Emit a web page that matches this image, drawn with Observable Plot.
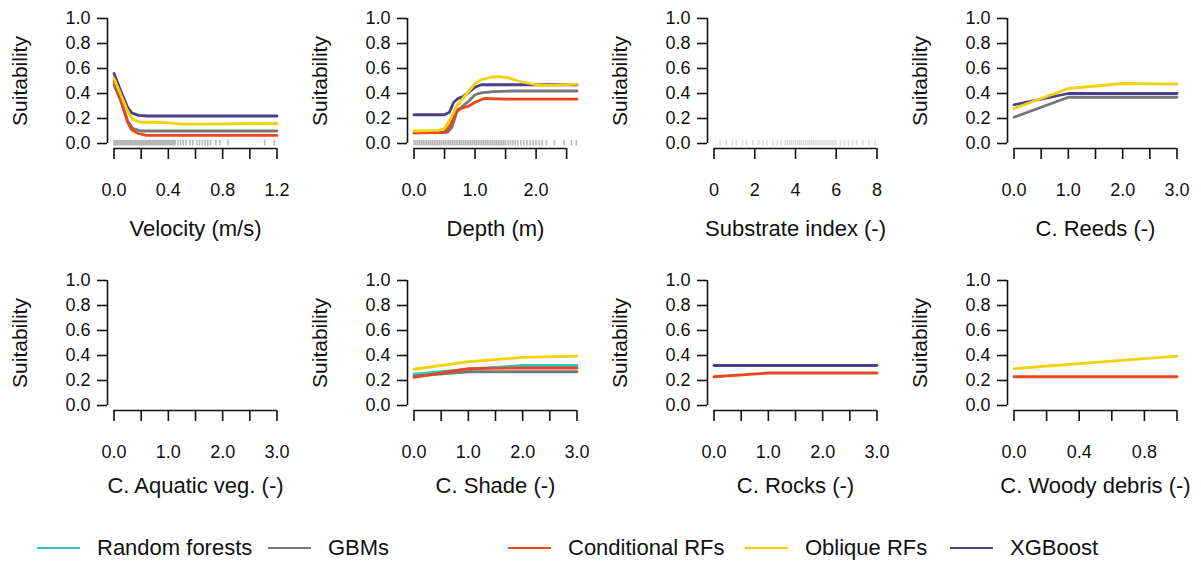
<!DOCTYPE html>
<html>
<head>
<meta charset="utf-8">
<script src="https://cdn.jsdelivr.net/npm/d3@7"></script>
<script src="https://cdn.jsdelivr.net/npm/@observablehq/plot@0.6"></script>
<style>
  html, body { margin: 0; padding: 0; background: #fff; }
  #wrap { position: relative; width: 1201px; height: 561px; overflow: hidden; font-family: "Liberation Sans", Arial, sans-serif; color: #111; }
  .panel { position: absolute; }
  .legend-item { position: absolute; top: 534px; height: 28px; display: flex; align-items: center; font-size: 22px; white-space: nowrap; }
  .legend-item .sw { display: inline-block; width: 43px; height: 0; border-top: 2.6px solid; margin-right: 17px; }
</style>
</head>
<body>
<div id="wrap"></div>
<script>
// ---- Models ----
const models = ["Random forests", "GBMs", "Conditional RFs", "Oblique RFs", "XGBoost"];
const modelColors = ["#2ec5c9", "#777777", "#e9461c", "#f5d10a", "#4a3f8c"];
const drawOrder = ["Random forests", "GBMs", "Conditional RFs", "XGBoost", "Oblique RFs"];

// ---- Y axis ----
const yTicks = [0, 0.2, 0.4, 0.6, 0.8, 1.0];
const yTitle = "Suitability";

// ---- Panel titles ----
const panelTitles = ["Velocity (m/s)", "Depth (m)", "Substrate index (-)", "C. Reeds (-)",
                     "C. Aquatic veg. (-)", "C. Shade (-)", "C. Rocks (-)", "C. Woody debris (-)"];

// ---- X ticks / labels per panel ----
const velocityTicks = [0, 0.2, 0.4, 0.6, 0.8, 1.0, 1.2];
const velocityLabels = [0, 0.4, 0.8, 1.2];
const depthTicks = [0, 0.5, 1.0, 1.5, 2.0, 2.5];
const depthLabels = [0, 1.0, 2.0];
const substrateTicks = [0, 2, 4, 6, 8];
const substrateLabels = [0, 2, 4, 6, 8];
const coverTicks = [0, 0.5, 1.0, 1.5, 2.0, 2.5, 3.0];
const coverLabels = [0, 1.0, 2.0, 3.0];
const woodyTicks = [0, 0.2, 0.4, 0.6, 0.8, 1.0];
const woodyLabels = [0, 0.4, 0.8];

// ---- Data ranges of predictors ----
const velocityRange = [0, 1.2];
const depthRange = [0, 2.67];
const substrateRange = [0, 8];
const coverRange = [0, 3];
const woodyRange = [0, 1];

// ---- Rug (observations) ----
const velocityRug = [0, 0.01, 0.02, 0.03, 0.04, 0.05, 0.06, 0.07, 0.08, 0.09, 0.1, 0.11, 0.12, 0.13, 0.14, 0.15,
  0.16, 0.17, 0.18, 0.19, 0.2, 0.21, 0.22, 0.23, 0.24, 0.25, 0.26, 0.27, 0.28, 0.29, 0.3, 0.31, 0.32, 0.33,
  0.34, 0.35, 0.36, 0.37, 0.38, 0.39, 0.4, 0.41, 0.42, 0.43, 0.44, 0.45, 0.47, 0.49, 0.51, 0.53, 0.56, 0.58,
  0.61, 0.63, 0.65, 0.67, 0.69, 0.71, 0.75, 0.78, 0.84, 1.11, 1.18];
const depthRug = [0, 0.03, 0.06, 0.09, 0.12, 0.15, 0.18, 0.21, 0.24, 0.27, 0.3, 0.33, 0.36, 0.39, 0.42, 0.45,
  0.48, 0.51, 0.54, 0.57, 0.6, 0.63, 0.66, 0.69, 0.72, 0.75, 0.78, 0.81, 0.84, 0.87, 0.9, 0.93, 0.96, 0.99,
  1.02, 1.05, 1.08, 1.11, 1.14, 1.17, 1.2, 1.23, 1.26, 1.29, 1.32, 1.35, 1.38, 1.41, 1.44, 1.47, 1.5, 1.54,
  1.58, 1.62, 1.66, 1.7, 1.75, 1.8, 1.85, 1.9, 1.95, 2.0, 2.05, 2.1, 2.17, 2.3, 2.46, 2.58, 2.66];
const substrateRug = [0.3, 0.6, 0.9, 1.1, 1.4, 1.6, 1.9, 2.2, 2.4, 2.6, 2.9, 3.1, 3.3, 3.5, 3.6, 3.7, 3.8,
  3.9, 4.0, 4.1, 4.2, 4.3, 4.4, 4.5, 4.6, 4.7, 4.8, 4.9, 5.0, 5.1, 5.2, 5.3, 5.4, 5.5, 5.6, 5.7, 5.8, 5.9,
  6.0, 6.2, 6.4, 6.6, 6.8, 7.0, 7.3, 7.6, 7.9];

// ---- Response curves: [x, suitability] ----
const velocityGBM = [[0, 0.47], [0.05, 0.34], [0.1, 0.18], [0.14, 0.12], [0.2, 0.1], [1.2, 0.1]];
const velocityCRF = [[0, 0.5], [0.05, 0.35], [0.1, 0.17], [0.13, 0.11], [0.18, 0.08], [0.24, 0.065], [1.2, 0.065]];
const velocityORF = [[0, 0.52], [0.05, 0.39], [0.1, 0.26], [0.14, 0.19], [0.2, 0.17], [0.3, 0.17], [0.4, 0.165],
  [0.5, 0.155], [0.7, 0.155], [1.0, 0.16], [1.2, 0.16]];
const velocityXGB = [[0, 0.56], [0.05, 0.42], [0.1, 0.29], [0.13, 0.245], [0.18, 0.225], [0.25, 0.22], [1.2, 0.22]];

const depthGBM = [[0, 0.085], [0.55, 0.09], [0.62, 0.13], [0.7, 0.25], [0.8, 0.3], [0.9, 0.34], [1.0, 0.39],
  [1.1, 0.405], [1.3, 0.415], [1.6, 0.42], [2.67, 0.42]];
const depthCRF = [[0, 0.085], [0.5, 0.09], [0.6, 0.15], [0.7, 0.27], [0.8, 0.285], [0.9, 0.3], [1.0, 0.33],
  [1.15, 0.36], [1.5, 0.355], [2.67, 0.355]];
const depthORF = [[0, 0.1], [0.4, 0.105], [0.5, 0.12], [0.6, 0.2], [0.7, 0.3], [0.8, 0.36], [0.9, 0.42],
  [1.0, 0.48], [1.1, 0.51], [1.25, 0.53], [1.4, 0.535], [1.55, 0.525], [1.7, 0.5], [1.85, 0.485],
  [2.0, 0.47], [2.2, 0.465], [2.67, 0.475]];
const depthXGB = [[0, 0.23], [0.5, 0.23], [0.58, 0.25], [0.65, 0.33], [0.72, 0.36], [0.8, 0.375], [0.9, 0.41],
  [1.0, 0.45], [1.1, 0.47], [2.67, 0.47]];

const reedsGBM = [[0, 0.21], [1, 0.37], [3, 0.37]];
const reedsORF = [[0, 0.28], [1, 0.44], [2, 0.48], [3, 0.475]];
const reedsXGB = [[0, 0.31], [1, 0.4], [3, 0.4]];

const shadeRF = [[0, 0.25], [1, 0.29], [2, 0.32], [3, 0.32]];
const shadeGBM = [[0, 0.235], [1, 0.27], [3, 0.27]];
const shadeCRF = [[0, 0.225], [1, 0.295], [2, 0.3], [3, 0.3]];
const shadeORF = [[0, 0.29], [1, 0.35], [2, 0.385], [3, 0.395]];

const rocksCRF = [[0, 0.23], [1, 0.26], [3, 0.26]];
const rocksXGB = [[0, 0.32], [3, 0.32]];

const woodyCRF = [[0, 0.23], [1, 0.23]];
const woodyORF = [[0, 0.295], [1, 0.395]];

// ---- Panel definitions (built from the arrays above) ----
const panels = [
  {title: panelTitles[0], range: velocityRange, ticks: velocityTicks, labels: velocityLabels, rug: velocityRug,
   curves: {"GBMs": velocityGBM, "Conditional RFs": velocityCRF, "Oblique RFs": velocityORF, "XGBoost": velocityXGB}},
  {title: panelTitles[1], range: depthRange, ticks: depthTicks, labels: depthLabels, rug: depthRug,
   curves: {"GBMs": depthGBM, "Conditional RFs": depthCRF, "Oblique RFs": depthORF, "XGBoost": depthXGB}},
  {title: panelTitles[2], range: substrateRange, ticks: substrateTicks, labels: substrateLabels, rug: substrateRug,
   curves: {}, intLabels: true, rugOpacity: 0.35},
  {title: panelTitles[3], range: coverRange, ticks: coverTicks, labels: coverLabels, rug: [],
   curves: {"GBMs": reedsGBM, "Oblique RFs": reedsORF, "XGBoost": reedsXGB}},
  {title: panelTitles[4], range: coverRange, ticks: coverTicks, labels: coverLabels, rug: [], curves: {}},
  {title: panelTitles[5], range: coverRange, ticks: coverTicks, labels: coverLabels, rug: [],
   curves: {"Random forests": shadeRF, "GBMs": shadeGBM, "Conditional RFs": shadeCRF, "Oblique RFs": shadeORF}},
  {title: panelTitles[6], range: coverRange, ticks: coverTicks, labels: coverLabels, rug: [],
   curves: {"Conditional RFs": rocksCRF, "XGBoost": rocksXGB}},
  {title: panelTitles[7], range: woodyRange, ticks: woodyTicks, labels: woodyLabels, rug: [],
   curves: {"Conditional RFs": woodyCRF, "Oblique RFs": woodyORF}}
];

const FONT = '"Liberation Sans", Arial, sans-serif';
const wrap = document.getElementById("wrap");

panels.forEach((p, i) => {
  const col = i % 4, row = Math.floor(i / 4);
  const w = col === 3 ? 301 : 300;
  const [x0, x1] = p.range;
  const pad = 0.04 * (x1 - x0);
  const rows = [];
  for (const m of drawOrder) {
    if (p.curves[m]) for (const [x, y] of p.curves[m]) rows.push({model: m, x, y});
  }
  const fmt = p.intLabels ? (d => String(d)) : (d => d.toFixed(1));
  const labelSet = new Set(p.labels.map(v => +v.toFixed(4)));
  const chart = Plot.plot({
    width: w,
    height: 262,
    marginLeft: 107,
    marginRight: w - 283,
    marginTop: 13,
    marginBottom: 114,
    x: {domain: [x0 - pad, x1 + pad], axis: null},
    y: {domain: [-0.04, 1.04], axis: null},
    color: {domain: models, range: modelColors},
    style: {fontFamily: FONT, fontSize: "18px", color: "#111", background: "transparent", overflow: "visible"},
    marks: [
      // rug
      Plot.ruleX(p.rug, {x: d => d, y1: -0.02, y2: 0.025, stroke: "#9a9a9a",
                          strokeOpacity: p.rugOpacity ?? 0.7, strokeWidth: 1.6}),
      // curves
      Plot.line(rows, {x: "x", y: "y", z: "model", stroke: "model", strokeWidth: 2.8, curve: "linear"}),
      // y axis
      Plot.ruleX([x0 - pad], {y1: 0, y2: 1, stroke: "#111", strokeWidth: 1.6}),
      Plot.axisY({ticks: yTicks, tickSize: 10, tickPadding: 7, tickFormat: d => d.toFixed(1), label: null,
                  stroke: "#111", strokeWidth: 1.6, fill: "#111"}),
      // x axis
      Plot.ruleY([-0.04], {x1: p.ticks[0], x2: p.ticks[p.ticks.length - 1], stroke: "#111", strokeWidth: 1.6}),
      Plot.axisX({ticks: p.ticks, tickSize: 11, tickPadding: 24, label: null,
                  tickFormat: d => labelSet.has(+d.toFixed(4)) ? fmt(d) : "",
                  stroke: "#111", strokeWidth: 1.6, fill: "#111"}),
      // titles
      Plot.text([p.title], {text: d => d, frameAnchor: "bottom", dy: row === 0 ? 80 : 75, fontSize: 22,
                            fill: "#111", lineAnchor: "middle"}),
      Plot.text([yTitle], {text: d => d, frameAnchor: "left", dx: -87, rotate: -90, fontSize: 21, fill: "#111",
                           textAnchor: "middle", lineAnchor: "middle"})
    ]
  });
  const div = document.createElement("div");
  div.className = "panel";
  div.style.left = (col * 300) + "px";
  div.style.top = (row * 262) + "px";
  div.appendChild(chart);
  wrap.appendChild(div);
});

// ---- Legend ----
const legendX = [37, 268, 508, 745, 950];
models.forEach((m, i) => {
  const item = document.createElement("div");
  item.className = "legend-item";
  item.style.left = legendX[i] + "px";
  const sw = document.createElement("span");
  sw.className = "sw";
  sw.style.borderTopColor = modelColors[i];
  item.appendChild(sw);
  const t = document.createElement("span");
  t.textContent = m;
  item.appendChild(t);
  wrap.appendChild(item);
});
</script>
</body>
</html>
